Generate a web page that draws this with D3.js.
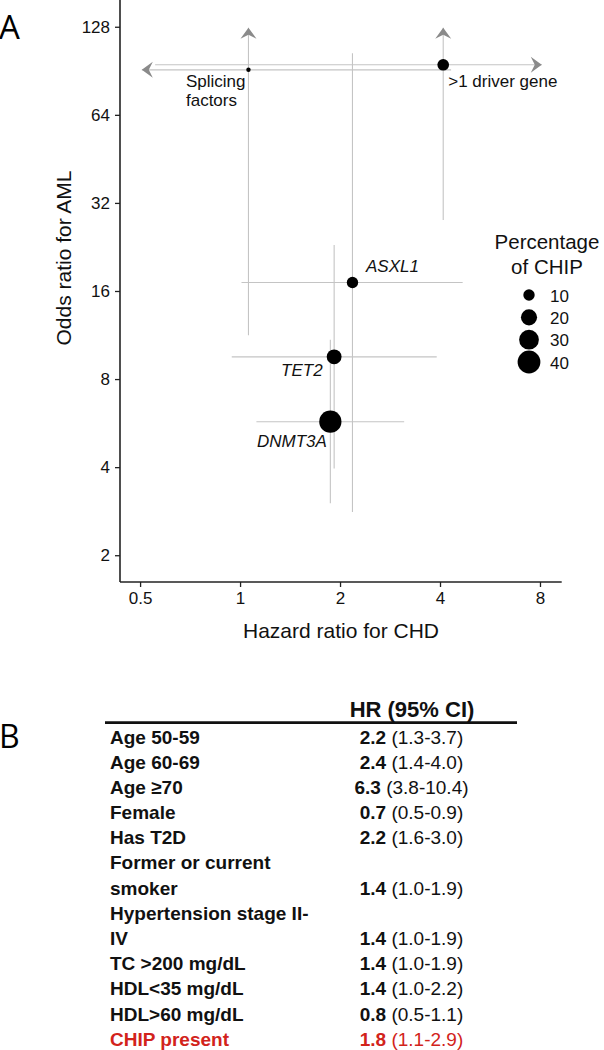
<!DOCTYPE html>
<html><head><meta charset="utf-8">
<script src="https://cdn.jsdelivr.net/npm/d3@7"></script>
<style>
html,body{margin:0;padding:0;background:#fff;}
svg{display:block;font-family:"Liberation Sans",Arial,sans-serif;}
</style></head>
<body>
<svg id="c" width="604" height="1050"></svg>
<script>
// ---- Panel A data ----
const genes = ["Splicing factors", ">1 driver gene", "ASXL1", "TET2", "DNMT3A"];
const hr = [1.06, 4.09, 2.18, 1.92, 1.87];
const hrLow = [null, 0.555, 1.01, 0.944, 1.12];   // null = beyond axis (arrow)
const hrHigh = [4.32, null, 4.68, 3.91, 3.12];
const orVal = [91.2, 94.9, 17.1, 9.53, 5.72];
const orLow = [11.3, 28.0, 2.81, 3.96, 3.01];
const orHigh = [null, null, 104, 23.0, 10.9];
const pctChip = [1.5, 10.5, 10, 17, 38];
const hrCapLow = 0.506, hrCapHigh = 8.1, orCap = 127;
const xTicks = [0.5, 1, 2, 4, 8];
const yTicks = [2, 4, 8, 16, 32, 64, 128];
const legendPct = [10, 20, 30, 40];

// ---- Panel B data ----
const rowLabels = [["Age 50-59"], ["Age 60-69"], ["Age \u226570"], ["Female"], ["Has T2D"],
  ["Former or current", "smoker"], ["Hypertension stage II-", "IV"], ["TC >200 mg/dL"],
  ["HDL<35 mg/dL"], ["HDL>60 mg/dL"], ["CHIP present"]];
const rowHR = [2.2, 2.4, 6.3, 0.7, 2.2, 1.4, 1.4, 1.4, 1.4, 0.8, 1.8];
const rowLo = [1.3, 1.4, 3.8, 0.5, 1.6, 1.0, 1.0, 1.0, 1.0, 0.5, 1.1];
const rowHi = [3.7, 4.0, 10.4, 0.9, 3.0, 1.9, 1.9, 1.9, 2.2, 1.1, 2.9];
const highlightRow = "CHIP present";

const svg = d3.select("#c");
const gray = "#c4c4c4", arrowCol = "#8a8a8a";

// scales
const x = d3.scaleLog().base(2).domain([0.435, 9.3]).range([120, 561.7]);
const y = d3.scaleLog().base(2).domain([1.62, 158]).range([582, 0]);
const r = d3.scaleSqrt().domain([0, 40]).range([0, 11.4]);

// panel letter
svg.append("text").attr("x", -1).attr("y", 39).attr("font-family", "'Open Sans',sans-serif")
  .attr("font-size", 33).text("A");

// axes
const yAxis = d3.axisLeft(y).tickValues(yTicks).tickFormat(d3.format("d")).tickSize(5).tickPadding(5);
const gy = svg.append("g").attr("transform", "translate(120,0)").call(yAxis);
const xAxis = d3.axisBottom(x).tickValues(xTicks).tickFormat(d => String(d)).tickSize(5).tickPadding(5);
const gx = svg.append("g").attr("transform", "translate(0,582)").call(xAxis);
[gx, gy].forEach(g => {
  g.select(".domain").attr("stroke", "#222").attr("stroke-width", 1.6);
  g.selectAll(".tick line").attr("stroke", "#222").attr("stroke-width", 1.3);
  g.selectAll(".tick text").attr("font-size", 17).attr("fill", "#111")
    .attr("font-family", "'Liberation Sans',Arial,sans-serif");
});
gy.select(".domain").attr("d", "M0,0V582");
gx.select(".domain").attr("d", "M120,0H561.7");

svg.append("text").attr("x", 341).attr("y", 638).attr("text-anchor", "middle")
  .attr("font-size", 21).attr("fill", "#111").text("Hazard ratio for CHD");
svg.append("text").attr("transform", "translate(71,258) rotate(-90)").attr("text-anchor", "middle")
  .attr("font-size", 21).attr("fill", "#111").text("Odds ratio for AML");

// arrowhead helper
function arrowHead(px, py, dir) {
  const p = "M0,0 L-11,-8 L-7,0 L-11,8 Z";
  svg.append("path").attr("d", p).attr("fill", arrowCol)
    .attr("transform", `translate(${px},${py}) rotate(${dir})`);
}

const gErr = svg.append("g");
genes.forEach((g, i) => {
  const cy = y(orVal[i]), cx = x(hr[i]);
  const x0 = hrLow[i] == null ? x(hrCapLow) : x(hrLow[i]);
  const x1 = hrHigh[i] == null ? x(hrCapHigh) : x(hrHigh[i]);
  const y0 = y(orLow[i]);
  const y1 = orHigh[i] == null ? y(orCap) : y(orHigh[i]);
  gErr.append("line").attr("x1", x0).attr("x2", x1).attr("y1", cy).attr("y2", cy)
    .attr("stroke", gray).attr("stroke-width", 1.1);
  gErr.append("line").attr("x1", cx).attr("x2", cx).attr("y1", y0).attr("y2", y1)
    .attr("stroke", gray).attr("stroke-width", 1.1);
  if (hrLow[i] == null) arrowHead(x0, cy, 180);
  if (hrHigh[i] == null) arrowHead(x1, cy, 0);
  if (orHigh[i] == null) arrowHead(cx, y1, -90);
});

svg.append("g").selectAll("circle").data(genes).join("circle")
  .attr("cx", (d, i) => x(hr[i])).attr("cy", (d, i) => y(orVal[i]))
  .attr("r", (d, i) => r(pctChip[i])).attr("fill", "#000");

// gene labels
const lab = svg.append("g").attr("font-size", 17).attr("fill", "#111");
{
  const i = 0, t = genes[i].split(" ");
  const tx = lab.append("text").attr("x", x(hr[i]) - 62.5).attr("y", y(orVal[i]) + 17.5);
  tx.append("tspan").text(t[0]);
  tx.append("tspan").attr("x", x(hr[i]) - 62.5).attr("dy", 19).text(t[1]);
}
lab.append("text").attr("x", x(hr[1]) + 5).attr("y", y(orVal[1]) + 22.5).text(genes[1]);
lab.append("text").attr("x", x(hr[2]) + 13.5).attr("y", y(orVal[2]) - 11).attr("font-style", "italic").text(genes[2]);
lab.append("text").attr("x", x(hr[3]) - 11.5).attr("y", y(orVal[3]) + 19.5).attr("text-anchor", "end").attr("font-style", "italic").text(genes[3]);
lab.append("text").attr("x", x(hr[4]) - 3.5).attr("y", y(orVal[4]) + 25).attr("text-anchor", "end").attr("font-style", "italic").text(genes[4]);

// legend
const lg = svg.append("g").attr("fill", "#111");
lg.append("text").attr("x", 547).attr("y", 249).attr("text-anchor", "middle").attr("font-size", 20.5).text("Percentage");
lg.append("text").attr("x", 547).attr("y", 274).attr("text-anchor", "middle").attr("font-size", 20.5).text("of CHIP");
const legY = d3.scalePoint().domain(legendPct).range([295, 362]);
lg.selectAll("circle").data(legendPct).join("circle")
  .attr("cx", 529).attr("cy", d => legY(d)).attr("r", d => r(d)).attr("fill", "#000");
lg.selectAll("text.lv").data(legendPct).join("text").attr("class", "lv")
  .attr("x", 550).attr("y", d => legY(d) + 6.5).attr("font-size", 17).text(d => d);

// ---- Panel B ----
svg.append("text").attr("x", -1).attr("y", 748).attr("font-family", "'Open Sans',sans-serif")
  .attr("font-size", 32).text("B");
svg.append("text").attr("x", 412).attr("y", 717).attr("text-anchor", "middle")
  .attr("font-size", 22).attr("font-weight", "bold").attr("fill", "#111").text("HR (95% CI)");
svg.append("line").attr("x1", 105).attr("x2", 517).attr("y1", 722.7).attr("y2", 722.7)
  .attr("stroke", "#111").attr("stroke-width", 2.8);

const lineSlots = [];
rowLabels.forEach((ls, i) => ls.forEach((l, j) => lineSlots.push({ row: i, line: j, last: j === ls.length - 1, text: l })));
const rowY = d3.scaleLinear().domain([0, lineSlots.length - 1]).range([736.7, 1039]);
const f1 = d3.format(".1f");
const tb = svg.append("g").attr("font-size", 19);
lineSlots.forEach((s, k) => {
  const col = rowLabels[s.row][0] === highlightRow ? "#d2231b" : "#111";
  const by = rowY(k) + 6.8;
  tb.append("text").attr("x", 110).attr("y", by).attr("font-weight", "bold").attr("fill", col).text(s.text);
  if (s.last) {
    const t = tb.append("text").attr("x", 411.5).attr("y", by).attr("text-anchor", "middle").attr("fill", col);
    t.append("tspan").attr("font-weight", "bold").text(f1(rowHR[s.row]));
    t.append("tspan").text(" (" + f1(rowLo[s.row]) + "-" + f1(rowHi[s.row]) + ")");
  }
});
</script>
</body></html>
